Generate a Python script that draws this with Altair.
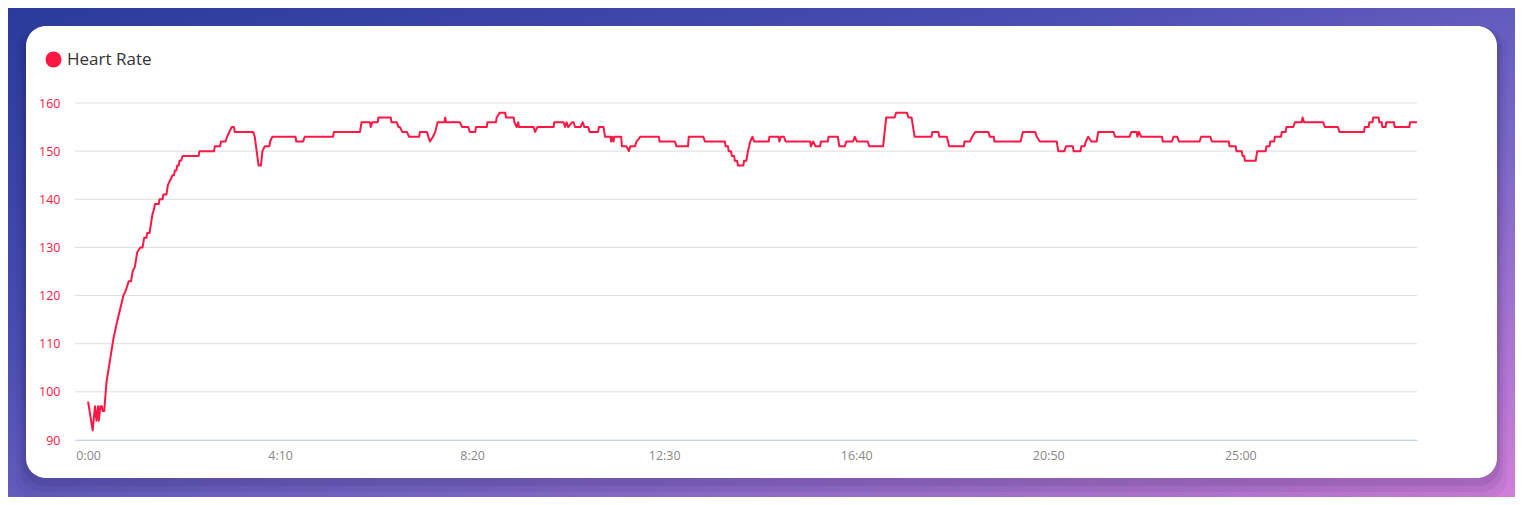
import altair as alt
import pandas as pd

# ---------------- data: (seconds since start, bpm) ----------------
readings = [
    (0, 98), (6, 92), (9, 97), (11, 94), (13, 97), (14, 94), (16, 97), (18, 97), (19, 96), (21, 96),
    (24, 102), (29, 107), (33, 111), (37, 114), (40, 116), (43, 118), (46, 120), (49, 121), (51, 122),
    (53, 123), (56, 123), (58, 125), (61, 126), (64, 129), (68, 130), (71, 130), (72, 131), (73, 132),
    (76, 132), (77, 133), (80, 133), (82, 135), (84, 137), (86, 138), (87, 139), (92, 139), (93, 140),
    (97, 140), (98, 141), (102, 141), (104, 143), (107, 144), (110, 145), (112, 145), (113, 146),
    (115, 146), (116, 147), (118, 147), (119, 148), (121, 148), (123, 149), (144, 149), (145, 150),
    (164, 150), (165, 151), (172, 151), (173, 152), (179, 152), (181, 153), (184, 154), (187, 155),
    (190, 155), (191, 154), (215, 154), (217, 153), (222, 147), (225, 147), (227, 150), (230, 151),
    (236, 151), (237, 152), (240, 153), (270, 153), (271, 152), (280, 152), (282, 153), (319, 153),
    (320, 154), (354, 154), (356, 156), (367, 156), (368, 155), (370, 156), (377, 156), (378, 157),
    (394, 157), (395, 156), (402, 156), (404, 155), (406, 155), (409, 154), (415, 154), (418, 153),
    (431, 153), (432, 154), (441, 154), (445, 152), (449, 153), (452, 154), (455, 156), (464, 156),
    (465, 157), (466, 156), (484, 156), (487, 155), (495, 155), (497, 154), (504, 154), (505, 155),
    (519, 155), (520, 156), (531, 156), (532, 157), (536, 158), (543, 158), (544, 157), (554, 157),
    (555, 156), (558, 155), (560, 156), (561, 155), (580, 155), (582, 154), (585, 155), (606, 155),
    (607, 156), (619, 156), (621, 155), (623, 156), (625, 155), (630, 156), (632, 156), (634, 155),
    (641, 155), (644, 156), (646, 155), (651, 155), (653, 154), (664, 154), (665, 155), (671, 155),
    (673, 153), (680, 153), (681, 152), (682, 153), (684, 152), (685, 153), (694, 153), (695, 151),
    (701, 151), (704, 150), (706, 151), (712, 151), (714, 152), (719, 153), (743, 153), (744, 152),
    (764, 152), (766, 151), (781, 151), (782, 153), (801, 153), (803, 152), (829, 152), (830, 151),
    (833, 151), (834, 150), (837, 150), (838, 149), (841, 149), (842, 148), (845, 148), (846, 147),
    (853, 147), (854, 148), (857, 148), (859, 150), (862, 152), (865, 153), (867, 152), (886, 152),
    (887, 153), (899, 153), (900, 152), (902, 153), (906, 153), (908, 152), (940, 152), (941, 151),
    (944, 152), (947, 151), (953, 151), (954, 152), (963, 152), (964, 153), (976, 153), (978, 151),
    (985, 151), (987, 152), (996, 152), (998, 153), (1001, 152), (1015, 152), (1017, 151), (1035, 151),
    (1039, 157), (1050, 157), (1052, 158), (1066, 158), (1068, 157), (1072, 157), (1076, 153),
    (1098, 153), (1099, 154), (1107, 154), (1108, 153), (1118, 153), (1121, 151), (1140, 151),
    (1141, 152), (1148, 152), (1151, 153), (1155, 154), (1172, 154), (1174, 153), (1179, 153),
    (1180, 152), (1214, 152), (1217, 154), (1233, 154), (1235, 153), (1239, 152), (1261, 152),
    (1263, 150), (1271, 150), (1273, 151), (1282, 151), (1283, 150), (1292, 150), (1293, 151),
    (1297, 151), (1299, 152), (1302, 153), (1306, 152), (1313, 152), (1315, 154), (1335, 154),
    (1337, 153), (1356, 153), (1358, 154), (1365, 154), (1366, 153), (1368, 154), (1371, 153),
    (1398, 153), (1399, 152), (1411, 152), (1413, 153), (1418, 153), (1420, 152), (1447, 152),
    (1449, 153), (1461, 153), (1463, 152), (1485, 152), (1486, 151), (1494, 151), (1495, 150),
    (1502, 150), (1503, 149), (1505, 149), (1506, 148), (1520, 148), (1522, 150), (1533, 150),
    (1534, 151), (1538, 151), (1539, 152), (1544, 152), (1545, 153), (1553, 153), (1554, 154),
    (1559, 154), (1560, 155), (1569, 155), (1571, 156), (1580, 156), (1581, 157), (1583, 156),
    (1608, 156), (1610, 155), (1627, 155), (1629, 154), (1661, 154), (1662, 155), (1667, 155),
    (1668, 156), (1672, 156), (1673, 157), (1680, 157), (1681, 156), (1684, 156), (1685, 155),
    (1689, 155), (1690, 156), (1700, 156), (1701, 155), (1720, 155), (1721, 156), (1730, 156),
]
times = [r[0] for r in readings]
heart_rate = [r[1] for r in readings]

series_name = "Heart Rate"
y_ticks = [90, 100, 110, 120, 130, 140, 150, 160]
x_ticks = [0, 250, 500, 750, 1000, 1250, 1500]
x_domain = [-17, 1730]
y_domain = [90, 160]

LINE_RED = "#ff1744"
W, H = 1342, 337
PAD = {"left": 67, "top": 95, "right": 98, "bottom": 57}

df = pd.DataFrame({"t": times, "hr": heart_rate, "series": series_name})
grid_df = pd.DataFrame({"tick": y_ticks})
one = pd.DataFrame({"k": [0]})

y_axis = alt.Axis(values=y_ticks, grid=False, domain=False, ticks=False, tickSize=0,
                  labelColor=LINE_RED, labelFontSize=12.5, labelFont="Open Sans",
                  labelPadding=15, title=None, zindex=1)
x_axis = alt.Axis(values=x_ticks, grid=False, domain=True, domainColor="#c6d4ea",
                  domainWidth=1, ticks=False, tickSize=0, labelColor="#888888",
                  labelFontSize=12.5, labelFont="Open Sans", labelPadding=9, title=None,
                  zindex=1,
                  labelExpr="floor(datum.value/60) + ':' + (datum.value % 60 < 10 ? '0' : '') + (datum.value % 60)")

# ---------------- decoration: page gradient, card shadow, card ----------------
bg = alt.Chart(one).mark_rect(
    color=alt.LinearGradient(
        gradient="linear",
        stops=[alt.GradientStop(color="#2a3b9b", offset=0),
               alt.GradientStop(color="#4a4db1", offset=0.35),
               alt.GradientStop(color="#7767c8", offset=0.62),
               alt.GradientStop(color="#d07fd8", offset=1)],
        x1=0, y1=0, x2=1, y2=1)
).encode(x=alt.value(-PAD["left"]), x2=alt.value(W + PAD["right"]),
         y=alt.value(-PAD["top"]), y2=alt.value(H + PAD["bottom"]))

cx1, cx2, cy1, cy2 = -49, 1422, -77, 375
shadows = []
for grow, dy, op in [(10, 12, 0.05), (6, 8, 0.07), (3, 5, 0.09)]:
    shadows.append(
        alt.Chart(one).mark_rect(color="#1a1040", opacity=op, cornerRadius=22)
        .encode(x=alt.value(cx1 - grow), x2=alt.value(cx2 + grow),
                y=alt.value(cy1 - grow + dy), y2=alt.value(cy2 + grow + dy))
    )

card = alt.Chart(one).mark_rect(color="white", cornerRadius=20).encode(
    x=alt.value(cx1), x2=alt.value(cx2), y=alt.value(cy1), y2=alt.value(cy2))

# ---------------- grid + line ----------------
grid = alt.Chart(grid_df).mark_rule(color="#dedede", strokeWidth=1).encode(
    y=alt.Y("tick:Q", scale=alt.Scale(domain=y_domain, nice=False, zero=False), axis=y_axis)
)

line = alt.Chart(df).mark_line(strokeWidth=2, strokeJoin="round").encode(
    x=alt.X("t:Q", scale=alt.Scale(domain=x_domain, nice=False, zero=False), axis=x_axis),
    y=alt.Y("hr:Q", scale=alt.Scale(domain=y_domain, nice=False, zero=False), axis=y_axis),
    color=alt.Color("series:N",
                    scale=alt.Scale(domain=[series_name], range=[LINE_RED]),
                    legend=alt.Legend(title=None, orient="none", legendX=-30, legendY=-52,
                                      symbolType="circle", symbolSize=256,
                                      symbolFillColor=LINE_RED, symbolStrokeWidth=0,
                                      labelFontSize=17, labelFont="Open Sans",
                                      labelColor="#333333", labelOffset=5, padding=0)),
)

chart = alt.layer(bg, *shadows, card, grid, line).properties(
    width=W, height=H,
    autosize=alt.AutoSizeParams(type="none"),
    padding=PAD,
    background="white",
).configure_view(stroke=None)

chart.save("out.html", embed_options={"renderer": "svg", "actions": False})
